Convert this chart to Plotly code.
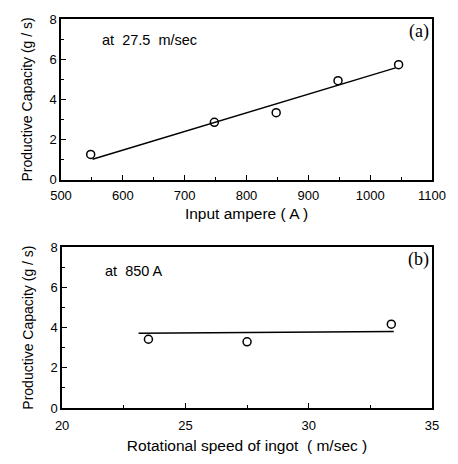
import plotly.graph_objects as go

# Panel (a): productive capacity vs input ampere at 27.5 m/sec
amp_x = [548, 748, 848, 948, 1046]
amp_y = [1.26, 2.86, 3.34, 4.93, 5.73]
amp_fit_x = [551, 1041]
amp_fit_y = [1.02, 5.57]

# Panel (b): productive capacity vs rotational speed at 850 A
rot_x = [23.5, 27.5, 33.35]
rot_y = [3.42, 3.29, 4.17]
rot_fit_x = [23.1, 33.45]
rot_fit_y = [3.72, 3.80]

FONT = "Liberation Sans, Arial, sans-serif"
SERIF = "Liberation Serif, Times New Roman, serif"

fig = go.Figure()
marker = dict(symbol="circle-open", size=8, color="black", line=dict(width=1.5, color="black"))

fig.add_trace(go.Scatter(x=amp_fit_x, y=amp_fit_y, mode="lines",
                         line=dict(color="black", width=1.5), xaxis="x", yaxis="y", showlegend=False))
fig.add_trace(go.Scatter(x=amp_x, y=amp_y, mode="markers", marker=marker,
                         xaxis="x", yaxis="y", showlegend=False))
fig.add_trace(go.Scatter(x=rot_fit_x, y=rot_fit_y, mode="lines",
                         line=dict(color="black", width=1.5), xaxis="x2", yaxis="y2", showlegend=False))
fig.add_trace(go.Scatter(x=rot_x, y=rot_y, mode="markers", marker=marker,
                         xaxis="x2", yaxis="y2", showlegend=False))

axis_common = dict(showline=True, linecolor="black", linewidth=1.5, mirror=True,
                   ticks="inside", ticklen=5, tickwidth=1, tickcolor="black",
                   showgrid=False, zeroline=False,
                   tickfont=dict(family=FONT, size=13, color="black"))

xtitle_font = dict(family=FONT, size=15.5, color="black")
ytitle_font = dict(family=FONT, size=14, color="black")

fig.update_layout(
    width=458, height=464,
    margin=dict(l=61, r=24, t=15, b=45),
    paper_bgcolor="white", plot_bgcolor="white",
    xaxis=dict(domain=[0, 1], anchor="y", range=[500, 1100], dtick=100, tick0=500,
               minor=dict(dtick=50, ticks="inside", ticklen=3, tickcolor="black"),
               ticklabelstandoff=3,
               title=dict(text="Input ampere ( A )", font=xtitle_font, standoff=6),
               **axis_common),
    yaxis=dict(domain=[0.5866, 1], anchor="x", range=[0, 8], dtick=2, tick0=0,
               minor=dict(dtick=1, ticks="inside", ticklen=3, tickcolor="black"),
               title=dict(text="Productive Capacity (g / s)", font=ytitle_font, standoff=14),
               **axis_common),
    xaxis2=dict(domain=[0.003, 1], anchor="y2", range=[20, 35], dtick=5, tick0=20,
                minor=dict(dtick=2.5, ticks="inside", ticklen=3, tickcolor="black"),
                ticklabelstandoff=5,
                title=dict(text="Rotational speed of ingot  ( m/sec )", font=xtitle_font, standoff=8),
                **axis_common),
    yaxis2=dict(domain=[0, 0.4134], anchor="x2", range=[0, 8], dtick=2, tick0=0,
                minor=dict(dtick=1, ticks="inside", ticklen=3, tickcolor="black"),
                title=dict(text="Productive Capacity (g / s)", font=ytitle_font, standoff=14),
                **axis_common),
    annotations=[
        dict(text="at  27.5  m/sec", xref="x domain", yref="y domain", x=0.105, y=0.87,
             xanchor="left", yanchor="middle", showarrow=False,
             font=dict(family=FONT, size=14.5, color="black")),
        dict(text="(a)", xref="x domain", yref="y domain", x=0.998, y=1.0,
             xanchor="right", yanchor="top", showarrow=False,
             font=dict(family=SERIF, size=18, color="black")),
        dict(text="at  850 A", xref="x2 domain", yref="y2 domain", x=0.11, y=0.85,
             xanchor="left", yanchor="middle", showarrow=False,
             font=dict(family=FONT, size=14.5, color="black")),
        dict(text="(b)", xref="x2 domain", yref="y2 domain", x=0.998, y=1.0,
             xanchor="right", yanchor="top", showarrow=False,
             font=dict(family=SERIF, size=18, color="black")),
    ],
)

fig.write_html("out.html")
